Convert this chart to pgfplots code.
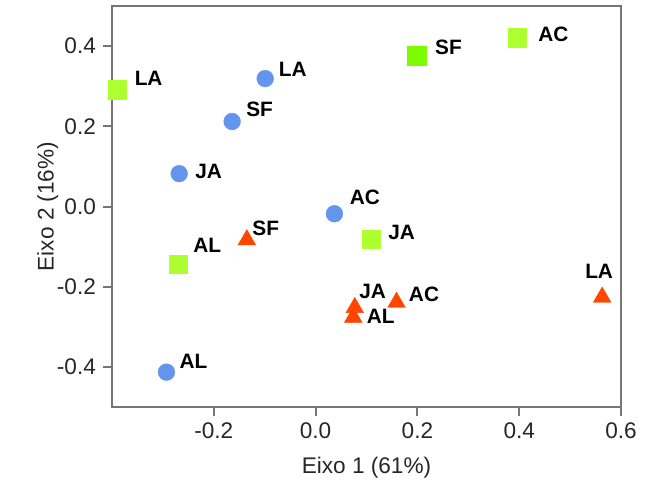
\documentclass[border=0pt]{standalone}
\usepackage{pgfplots}
\pgfplotsset{compat=1.18}
\usepackage{fontspec}
\setmainfont{Liberation Sans}

\definecolor{circblue}{RGB}{100,149,237}
\definecolor{sqgreen}{RGB}{173,255,47}
\definecolor{sqlime}{RGB}{124,252,0}
\definecolor{trired}{RGB}{255,69,0}
\definecolor{axgray}{RGB}{118,118,118}

\newcommand{\ptlab}{\bfseries\fontsize{10.4pt}{12pt}\selectfont}
\newcommand{\axfont}{\fontsize{11.3pt}{13pt}\selectfont}

\begin{document}
\begin{tikzpicture}
\begin{axis}[
  set layers=standard,
  scale only axis,
  width=254.5pt, height=200.5pt,
  xmin=-0.4, xmax=0.6, ymin=-0.5, ymax=0.5,
  xtick={-0.2,0,0.2,0.4,0.6},
  xticklabels={-0.2,0.0,0.2,0.4,0.6},
  ytick={-0.4,-0.2,0,0.2,0.4},
  yticklabels={-0.4,-0.2,0.0,0.2,0.4},
  xtick pos=left, ytick pos=left,
  tick align=outside,
  major tick length=4.5pt,
  axis line style={axgray, line width=1pt},
  tick style={axgray, line width=1pt},
  tick label style={font=\axfont, text=black!85},
  xlabel={Eixo 1 (61\%)},
  ylabel={Eixo 2 (16\%)},
  every axis x label/.style={at={(rel axis cs:0.5,-0.152)}, anchor=center,
    font=\axfont, text=black!85},
  every axis y label/.style={at={(rel axis cs:-0.126,0.5)}, anchor=center,
    rotate=90, font=\axfont, text=black!85},
  clip=false,
]
% circles
\addplot[only marks, mark=*, mark size=4.2pt,
  mark options={draw=circblue, fill=circblue, line width=0.2pt}]
  table {
x y
-0.099 0.319
-0.164 0.212
-0.268 0.082
0.037 -0.018
-0.293 -0.413
};
% squares
\addplot[only marks, mark=square*, mark size=4.6pt,
  mark options={draw=sqgreen, fill=sqgreen, line width=0.2pt}]
  table {
x y
-0.390 0.291
0.396 0.421
0.109 -0.081
-0.270 -0.144
};
\addplot[only marks, mark=square*, mark size=4.6pt,
  mark options={draw=sqlime, fill=sqlime, line width=0.2pt}]
  table {
x y
0.199 0.376
};
% triangles
\addplot[only marks, mark=triangle*, mark size=5.1pt,
  mark options={draw=trired, fill=trired, line width=0.2pt}]
  table {
x y
-0.135 -0.083
0.077 -0.252
0.074 -0.276
0.159 -0.239
0.563 -0.226
};
% point labels
\node[font=\ptlab] at (axis cs:-0.045,0.341) {LA};
\node[font=\ptlab] at (axis cs:-0.110,0.242) {SF};
\node[font=\ptlab] at (axis cs:-0.210,0.088) {JA};
\node[font=\ptlab] at (axis cs:0.097,0.022) {AC};
\node[font=\ptlab] at (axis cs:-0.240,-0.385) {AL};
\node[font=\ptlab] at (axis cs:-0.328,0.320) {LA};
\node[font=\ptlab] at (axis cs:0.261,0.398) {SF};
\node[font=\ptlab] at (axis cs:0.467,0.430) {AC};
\node[font=\ptlab] at (axis cs:0.169,-0.064) {JA};
\node[font=\ptlab] at (axis cs:-0.213,-0.098) {AL};
\node[font=\ptlab] at (axis cs:-0.098,-0.055) {SF};
\node[font=\ptlab] at (axis cs:0.112,-0.212) {JA};
\node[font=\ptlab] at (axis cs:0.128,-0.274) {AL};
\node[font=\ptlab] at (axis cs:0.213,-0.220) {AC};
\node[font=\ptlab] at (axis cs:0.557,-0.161) {LA};
\coordinate (bbl) at (rel axis cs:-0.22,-0.197);
\coordinate (bbr) at (rel axis cs:1.0589,1.015);
\end{axis}
\path (bbl) rectangle (bbr);
\end{tikzpicture}
\end{document}
